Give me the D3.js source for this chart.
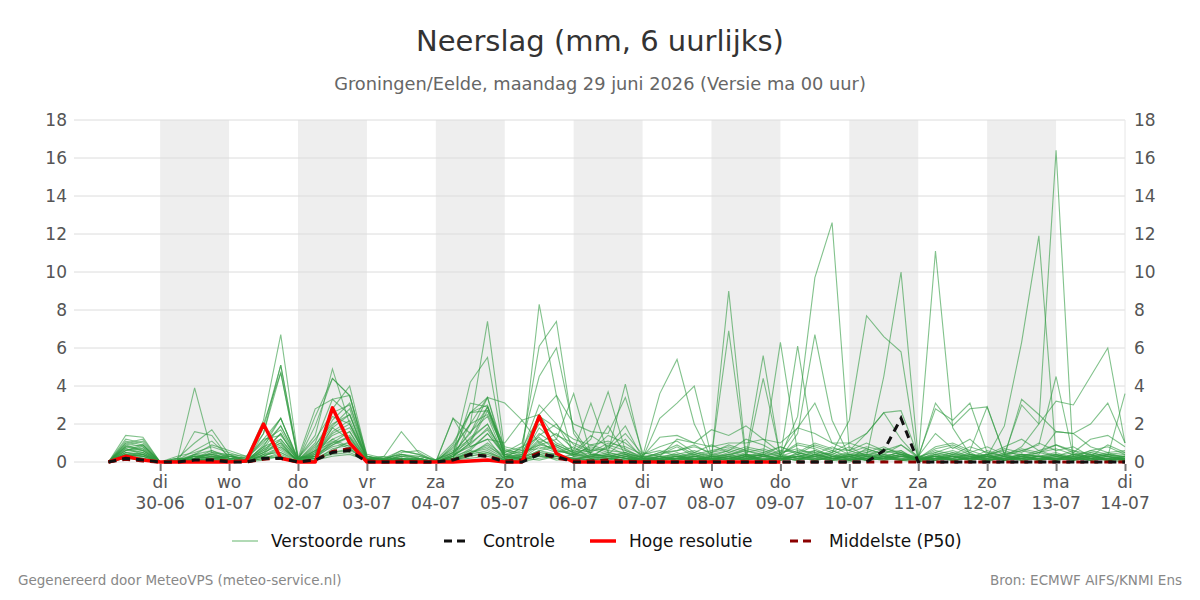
<!DOCTYPE html>
<html>
  <head>
    <meta charset="utf-8" />
    <title>Neerslag</title>
    <script src="https://d3js.org/d3.v7.min.js"></script>
    <style>
        body {margin: 0; background: #fff;}
        svg text {font-family: "DejaVu Sans", sans-serif;}
    </style>
  </head>
  <body>

    <svg id="chart" width="1200" height="600"></svg>

    <script>

        // run start and 6-hourly steps (first value at 29-06 06:00)
        var runStart = new Date(2026, 5, 29, 0);
        var stepHours = 6;

        var dayNames = ["di", "wo", "do", "vr", "za", "zo", "ma", "di", "wo", "do", "vr", "za", "zo", "ma", "di"];
        var dayDates = ["30-06", "01-07", "02-07", "03-07", "04-07", "05-07", "06-07", "07-07",
                        "08-07", "09-07", "10-07", "11-07", "12-07", "13-07", "14-07"];
        var shadedDays = ["30-06", "02-07", "04-07", "06-07", "08-07", "10-07", "12-07"];
        var yTicks = [0, 2, 4, 6, 8, 10, 12, 14, 16, 18];

        var controle = [
            0, 0.2, 0.1, 0, 0, 0.1, 0.1, 0, 0, 0.2, 0.2, 0,
            0.1, 0.5, 0.6, 0, 0, 0, 0, 0, 0.1, 0.4, 0.3, 0,
            0, 0.4, 0.3, 0, 0, 0, 0, 0, 0, 0, 0, 0,
            0, 0, 0, 0, 0, 0, 0, 0, 0, 0.6, 2.3, 0,
            0, 0, 0, 0, 0, 0, 0, 0, 0, 0, 0, 0
        ];

        var hogeResolutie = [
            0, 0.3, 0.1, 0, 0, 0, 0, 0, 0.05, 2.0, 0.2, 0,
            0, 2.85, 1.0, 0, 0, 0, 0, 0, 0, 0.05, 0.1, 0,
            0, 2.4, 0.45, 0, 0, 0, 0, 0, 0, 0, 0, 0,
            0, 0, 0, 0
        ];

        var p50 = [
            0, 0.15, 0.05, 0, 0, 0.05, 0.1, 0.05, 0, 0.15, 0.2, 0,
            0.1, 0.55, 0.7, 0.05, 0, 0.05, 0, 0, 0.1, 0.4, 0.3, 0.05,
            0.1, 0.5, 0.2, 0.05, 0.05, 0.1, 0.05, 0, 0, 0, 0, 0,
            0, 0, 0, 0, 0, 0, 0, 0, 0, 0, 0, 0,
            0, 0, 0, 0, 0, 0, 0, 0, 0, 0, 0, 0
        ];

        // verstoorde runs (ensemble members)
        var members = [
            [0, 1.4, 1.3, 0, 0.1, 0.3, 0.2, 0.1, 0, 0.4, 1.2, 0.1,
             0.5, 1.8, 1.2, 0.1, 0, 0.2, 0, 0, 0.3, 1.0, 2.7, 0.4,
             0.3, 1.2, 0.8, 0.3, 0.5, 0.2, 0.4, 0, 0.1, 0.3, 0.2, 0.1,
             0, 0.3, 0.2, 0.1, 0.5, 0.3, 0.1, 0, 0.2, 0.4, 0.1, 0,
             0.2, 0.5, 0.3, 0, 0.3, 0.8, 2.0, 16.4, 0.1, 0.3, 0.5, 0.2],
            [0, 1.1, 0.9, 0, 0, 0.2, 0.4, 0.1, 0.1, 0.8, 2.3, 0.1,
             1.0, 3.3, 2.5, 0.2, 0.1, 0.1, 0.1, 0, 0.5, 1.5, 2.9, 0.3,
             0.2, 0.8, 0.5, 0.6, 0.3, 0.4, 0.2, 0.1, 0, 0.2, 0.5, 0.2,
             0.1, 0.2, 0.4, 0.1, 0.3, 0.2, 0.5, 0.1, 0.3, 0.2, 0.6, 0,
             0.4, 0.3, 0.1, 0.3, 1.9, 6.3, 11.9, 0.3, 0.2, 0.4, 0.1, 0],
            [0, 0.9, 0.6, 0, 0.1, 0.4, 0.6, 0.2, 0, 1.5, 4.7, 0.2,
             0.3, 1.2, 0.8, 0.1, 0, 0.4, 0.2, 0, 0.2, 2.0, 3.4, 0.2,
             0.4, 2.5, 1.2, 0.4, 0.8, 0.5, 0.3, 0.1, 0.2, 0.4, 0.1, 0.3,
             0.2, 0.1, 0.3, 0.2, 0.4, 0.6, 0.3, 0.2, 0.4, 0.3, 0.5, 0.2,
             11.1, 1.8, 0.4, 0.2, 0.1, 0.3, 0.6, 0.3, 0.1, 0.2, 0.4, 0.1],
            [0, 0.7, 0.5, 0, 0, 0.1, 0.3, 0.2, 0.1, 0.5, 1.0, 0,
             0.4, 2.8, 4.0, 0.3, 0.1, 0, 0.1, 0, 0.1, 0.6, 1.5, 0.3,
             0.1, 0.5, 0.3, 0.2, 0.1, 0.3, 0.5, 0.2, 0.1, 0.2, 0.3, 0.1,
             0.4, 0.2, 0.1, 0.3, 2.4, 9.7, 12.6, 0.6, 0.3, 0.2, 0.4, 0.1,
             0.3, 0.2, 0.5, 0.1, 0.2, 0.4, 0.3, 0.2, 0.1, 0.5, 0.3, 0.2],
            [0, 0.6, 0.8, 0, 0, 0.2, 0.5, 0.1, 0, 0.3, 0.6, 0.1,
             0.2, 0.9, 1.4, 0.2, 0, 0.1, 0, 0, 0.4, 0.8, 1.2, 0.1,
             0.3, 1.4, 2.0, 0.5, 0.2, 0.1, 0.3, 0, 0.1, 0.2, 0.1, 0.3,
             0.2, 0.4, 0.1, 0.2, 0.3, 0.1, 0.2, 0.4, 0.3, 4.5, 10.0, 0.2,
             0.1, 0.3, 0.2, 0.4, 0.1, 0.2, 0.3, 0.1, 0.4, 0.2, 0.1, 0.3],
            [0, 0.5, 0.4, 0, 0.2, 0.1, 0.2, 0.3, 0.1, 0.6, 1.5, 0,
             0.1, 0.7, 0.9, 0.1, 0.2, 0, 0.1, 0, 0.1, 0.5, 0.9, 0.2,
             0.2, 0.6, 0.4, 0.1, 0.3, 0.2, 0.1, 0.2, 0.3, 0.1, 0.2, 0.1,
             0.3, 0.1, 0.2, 0.4, 0.2, 0.3, 0.5, 2.2, 7.7, 6.6, 5.8, 0,
             0.2, 0.1, 0.3, 0.2, 0.4, 0.1, 0.2, 0.3, 0.5, 0.2, 0.1, 0.2],
            [0, 0.4, 0.3, 0, 0, 0.1, 0.1, 0, 0, 0.2, 0.5, 0,
             0.3, 1.5, 2.0, 0.1, 0, 0.1, 0, 0, 0.2, 0.4, 0.6, 0.1,
             0.1, 0.3, 0.2, 0.4, 0.2, 0.3, 0.2, 0.1, 0.2, 0.3, 0.1, 0.2,
             9.0, 0.3, 0.1, 0.2, 0.1, 0.4, 0.2, 0.1, 0.2, 0.3, 0.1, 0.2,
             0.1, 0.4, 0.2, 0.1, 0.3, 0.2, 0.1, 0.4, 0.2, 0.1, 0.3, 0],
            [0, 0.3, 0.2, 0, 0, 0, 0.2, 0.1, 0, 0.4, 0.8, 0.1,
             0.2, 0.6, 1.1, 0, 0.1, 0, 0.1, 0, 0.1, 0.3, 0.5, 0.2,
             0, 0.2, 0.3, 0.1, 0.1, 0.2, 0.1, 0, 0.1, 0.2, 0.1, 0.3,
             6.9, 0.2, 0.4, 6.3, 0.5, 0.2, 0.1, 0.3, 0.1, 0.2, 0.3, 0.1,
             0.2, 0.3, 0.1, 0.2, 0.1, 0.3, 0.2, 0.1, 0.2, 0.3, 0.1, 0.1],
            [0, 0.2, 0.1, 0, 0.1, 0.3, 0.2, 0, 0, 0.2, 0.4, 0,
             0.1, 0.5, 0.6, 0.2, 0, 0.1, 0, 0, 0.3, 0.6, 0.4, 0.1,
             0.2, 0.4, 0.1, 0.2, 0.1, 0.1, 0.3, 0, 0.2, 0.1, 0.3, 0.2,
             0.1, 0.3, 5.6, 0.2, 0.1, 0.3, 0.2, 0.1, 0.2, 0.1, 0.3, 0.2,
             0.1, 0.2, 0.3, 0.1, 0.2, 0.4, 0.1, 0.2, 0.1, 0.2, 0.3, 0.1],
            [0, 0.3, 0.4, 0, 0, 0.1, 0, 0.1, 0, 0.1, 0.3, 0,
             0.2, 0.4, 0.5, 0.1, 0, 0, 0.1, 0, 0.2, 0.5, 0.8, 0.3,
             0.1, 0.3, 0.2, 0.1, 0.4, 0.3, 0.2, 0.3, 3.6, 5.4, 2.0, 0.2,
             0.3, 0.1, 4.4, 0.3, 0.2, 0.1, 0.3, 0.2, 0.1, 0.3, 0.2, 0.1,
             0.3, 0.1, 0.2, 0.3, 0.1, 0.2, 0.3, 0.1, 0.2, 0.1, 0.2, 0.3],
            [0, 0.2, 0.3, 0, 0, 0, 0.1, 0, 0.1, 0.3, 0.2, 0,
             0.1, 0.3, 0.4, 0.1, 0.1, 0, 0, 0, 0.1, 0.2, 0.3, 0.1,
             0.2, 0.1, 0.3, 0.2, 0.1, 0.2, 0.1, 0.2, 2.3, 3.1, 4.0, 0.3,
             0.2, 0.4, 0.1, 0.3, 6.1, 0.4, 0.2, 0.1, 0.3, 0.2, 0.1, 0.3,
             0.2, 0.1, 0.2, 0.4, 0.1, 0.3, 0.2, 0.1, 0.3, 0.2, 0.1, 0.2],
            [0, 1.0, 1.2, 0, 0, 0.2, 0.3, 0.1, 0, 0.7, 1.9, 0.1,
             0.6, 2.2, 3.1, 0.3, 0, 0.1, 0.2, 0, 0.1, 0.4, 1.0, 0.3,
             0.2, 8.3, 3.5, 0.3, 0.2, 0.4, 0.2, 0, 0.1, 0.2, 0.1, 0.3,
             0.2, 0.1, 0.3, 0.2, 1.5, 6.7, 2.2, 0.3, 0.1, 0.2, 0.4, 0.1,
             0.2, 0.3, 0.1, 0.2, 0.3, 0.1, 0.2, 0.4, 0.1, 0.2, 0.3, 0.1],
            [0, 0.8, 0.7, 0, 0, 0.3, 0.4, 0.2, 0.1, 1.8, 5.1, 0.2,
             0.3, 1.0, 1.6, 0.2, 0.1, 0.3, 0.1, 0, 0.3, 1.3, 2.0, 0.2,
             0.8, 6.1, 7.4, 1.5, 0.3, 0.2, 0.4, 0.1, 0.2, 0.3, 0.1, 0.2,
             0.4, 0.2, 0.1, 0.3, 0.2, 0.1, 0.3, 0.2, 0.4, 0.1, 0.2, 0.3,
             0.1, 0.2, 0.4, 0.1, 0.2, 0.3, 0.1, 0.2, 0.3, 0.1, 0.2, 0.1],
            [0, 0.6, 0.9, 0, 0.1, 0.2, 0.1, 0.3, 0.1, 1.2, 2.3, 0.1,
             1.9, 4.4, 3.5, 0.4, 0.2, 0.6, 0.4, 0.1, 0.5, 2.6, 3.4, 0.5,
             1.0, 4.5, 6.0, 1.7, 0.4, 0.3, 0.2, 0, 0.3, 0.1, 0.2, 0.1,
             0.3, 0.2, 0.4, 0.1, 0.2, 0.3, 0.1, 0.4, 0.2, 0.1, 0.3, 0.2,
             0.3, 0.1, 0.2, 0.3, 0.1, 0.2, 0.1, 0.3, 0.2, 0.4, 0.1, 0.2],
            [0, 0.5, 0.6, 0, 0, 0.1, 0.2, 0.1, 0, 0.5, 0.9, 0,
             0.3, 1.8, 2.5, 0.2, 0.1, 0.2, 0.1, 0, 0.8, 2.0, 7.4, 0.6,
             0.3, 0.9, 1.2, 3.6, 0.4, 0.3, 0.5, 0.2, 0.1, 0.3, 0.2, 0.1,
             0.2, 0.3, 0.1, 0.2, 0.4, 0.1, 0.2, 0.3, 0.1, 0.2, 0.4, 0.1,
             0.3, 0.2, 0.1, 0.4, 0.2, 0.1, 0.3, 0.2, 0.1, 0.3, 0.2, 0.1],
            [0, 0.4, 0.3, 0, 0, 0.4, 0.3, 0.1, 0, 0.3, 0.7, 0.1,
             0.4, 0.9, 1.3, 0.1, 0, 0.1, 0.2, 0, 0.4, 4.2, 5.5, 0.3,
             0.2, 0.6, 0.8, 0.4, 1.2, 3.7, 0.6, 0.2, 0.1, 0.2, 0.3, 0.1,
             0.2, 0.1, 0.3, 0.2, 0.1, 0.4, 0.2, 0.1, 0.3, 0.2, 0.1, 0.2,
             0.4, 0.1, 0.2, 0.3, 0.1, 0.2, 0.3, 0.1, 0.4, 0.2, 0.1, 0.2],
            [0, 1.2, 1.0, 0, 0.1, 3.9, 0.5, 0.3, 0.2, 2.2, 6.7, 0.3,
             0.2, 1.1, 0.7, 0.1, 0.2, 0.4, 0.2, 0, 0.2, 3.1, 2.9, 0.4,
             0.2, 1.8, 1.0, 0.6, 3.1, 0.5, 4.1, 0.3, 0.2, 0.1, 0.3, 0.2,
             0.1, 0.3, 0.2, 0.1, 0.3, 0.2, 0.4, 0.1, 0.2, 0.3, 0.1, 0.2,
             0.1, 0.3, 0.2, 0.1, 0.2, 0.3, 0.1, 0.2, 0.3, 0.1, 0.2, 0.3],
            [0, 0.9, 1.1, 0, 0.2, 1.0, 1.7, 0.4, 0.3, 1.5, 5.1, 0.2,
             1.4, 4.9, 2.0, 0.3, 0.1, 0.5, 0.6, 0.1, 1.0, 2.6, 2.7, 0.8,
             0.6, 3.0, 2.0, 0.9, 0.5, 1.9, 0.4, 0.3, 1.3, 1.4, 1.0, 1.7,
             1.4, 1.9, 1.2, 0.5, 1.8, 1.5, 1.0, 0.6, 1.5, 2.6, 2.7, 0.3,
             2.8, 2.2, 3.1, 0.5, 0.3, 3.3, 2.5, 1.6, 1.5, 2.0, 3.1, 1.0],
            [0, 0.8, 0.9, 0, 0, 1.6, 1.4, 0.2, 0.1, 2.0, 4.7, 0.1,
             2.4, 4.4, 3.5, 0.2, 0.3, 1.6, 0.5, 0, 2.3, 1.5, 3.4, 3.1,
             2.2, 2.5, 3.5, 2.0, 1.6, 1.5, 3.4, 0.5, 0.3, 1.2, 1.0, 0.8,
             1.0, 1.0, 1.2, 1.0, 1.8, 3.1, 1.0, 1.0, 1.5, 2.6, 1.2, 0.2,
             3.1, 1.9, 2.8, 2.9, 0.4, 3.0, 2.0, 3.2, 3.0, 4.5, 6.0, 1.0],
            [0, 0.7, 0.4, 0, 0.3, 0.5, 0.8, 0.5, 0.2, 1.0, 2.3, 0.2,
             2.8, 3.3, 3.5, 0.2, 0.1, 0.3, 0.3, 0.1, 0.5, 1.1, 2.9, 0.7,
             0.4, 1.5, 0.9, 0.5, 1.4, 0.8, 1.9, 0.2, 0.5, 0.9, 0.4, 0.6,
             0.8, 0.5, 0.7, 0.4, 0.9, 0.7, 0.3, 0.5, 0.8, 0.6, 0.9, 0.2,
             0.7, 0.9, 0.5, 0.8, 0.4, 0.6, 0.9, 4.5, 0.3, 0.6, 0.8, 0.4],
            [0, 0.5, 0.3, 0, 0, 0.2, 0.6, 0.3, 0.1, 0.8, 1.2, 0.1,
             0.9, 2.0, 2.5, 0.1, 0.2, 0.2, 0.1, 0, 0.3, 0.9, 1.8, 0.5,
             0.8, 1.3, 0.6, 0.4, 0.6, 1.4, 1.0, 0.3, 0.4, 0.6, 0.9, 0.4,
             0.6, 0.3, 0.5, 0.8, 0.4, 0.9, 0.6, 0.3, 0.5, 0.8, 0.4, 0.3,
             0.5, 0.3, 0.6, 2.9, 0.4, 0.7, 0.5, 0.9, 0.6, 0.4, 0.3, 3.6],
            [0, 0.3, 0.5, 0, 0.1, 0.3, 0.4, 0.2, 0.1, 0.6, 1.0, 0,
             0.5, 1.4, 1.8, 0.3, 0.1, 0.1, 0.2, 0, 0.2, 0.7, 1.5, 0.4,
             0.5, 0.9, 0.7, 0.3, 0.9, 0.6, 0.5, 0.1, 0.3, 0.4, 0.6, 0.3,
             0.4, 0.6, 0.3, 0.5, 0.7, 0.4, 0.8, 0.4, 0.6, 0.3, 0.5, 0.1,
             0.4, 0.6, 0.3, 0.4, 0.6, 0.3, 0.5, 0.7, 0.4, 0.5, 0.3, 0.4],
            [0, 0.2, 0.2, 0, 0, 0.1, 0.2, 0.1, 0, 0.4, 0.5, 0.1,
             0.3, 0.8, 1.0, 0.1, 0, 0, 0.1, 0, 0.1, 0.5, 0.7, 0.2,
             0.3, 0.5, 0.4, 0.2, 0.3, 0.5, 0.3, 0.2, 0.2, 0.3, 0.4, 0.2,
             0.5, 0.3, 0.4, 0.2, 0.3, 0.5, 0.2, 0.3, 0.4, 0.2, 0.3, 0.1,
             0.3, 0.2, 0.4, 0.3, 0.2, 0.4, 0.3, 0.2, 0.4, 0.3, 0.2, 0.3],
            [0, 0.6, 0.7, 0, 0, 0.2, 0.3, 0.2, 0.1, 0.5, 1.5, 0.1,
             0.8, 2.4, 2.0, 0.2, 0.1, 0.6, 0.4, 0, 2.3, 0.8, 1.2, 1.0,
             2.2, 1.0, 1.5, 0.7, 0.5, 1.0, 0.8, 0.4, 0.6, 0.3, 0.5, 0.9,
             0.5, 0.8, 0.6, 0.3, 0.6, 0.5, 0.4, 0.8, 0.3, 0.7, 0.5, 0.2,
             0.6, 0.4, 0.8, 0.5, 0.3, 0.6, 0.4, 1.6, 1.5, 0.8, 0.5, 0.6],
            [0, 0.4, 0.2, 0, 0, 0.3, 0.2, 0.3, 0.2, 0.3, 0.8, 0.1,
             0.6, 1.0, 1.3, 0.1, 0.3, 0.1, 0, 0.1, 0.6, 1.2, 2.0, 0.3,
             0.6, 0.7, 0.9, 0.5, 0.7, 0.4, 1.2, 0.2, 0.4, 0.8, 0.3, 0.5,
             0.7, 0.4, 0.3, 0.6, 0.5, 0.3, 0.6, 0.2, 0.7, 0.4, 0.3, 0.2,
             0.3, 0.5, 0.2, 0.6, 0.3, 0.2, 0.5, 0.3, 0.6, 0.2, 0.4, 0.5],
            [0, 0.3, 0.4, 0, 0.2, 0.1, 0.5, 0.4, 0, 0.9, 1.9, 0.2,
             0.4, 1.6, 2.2, 0.2, 0, 0.3, 0.2, 0, 0.4, 1.6, 2.4, 0.2,
             0.3, 1.1, 0.5, 0.8, 0.2, 0.9, 0.6, 0.3, 0.2, 0.5, 0.2, 0.4,
             0.3, 0.7, 0.5, 0.3, 0.2, 0.6, 0.3, 0.4, 0.2, 0.5, 0.6, 0.1,
             0.5, 0.8, 0.4, 0.2, 0.5, 0.4, 0.3, 0.4, 0.2, 0.6, 0.4, 0.2],
            [0, 0.2, 0.1, 0, 0, 0.1, 0.1, 0.1, 0, 0.2, 0.3, 0,
             0.2, 0.5, 0.7, 0.1, 0.1, 0.1, 0, 0, 0.1, 0.3, 0.5, 0.1,
             0.1, 0.4, 0.3, 0.2, 0.2, 0.3, 0.2, 0.1, 0.1, 0.2, 0.1, 0.2,
             0.1, 0.2, 0.1, 0.2, 0.1, 0.2, 0.1, 0.2, 0.1, 0.2, 0.1, 0.1,
             0.2, 0.1, 0.2, 0.1, 0.2, 0.1, 0.2, 0.1, 0.2, 0.1, 0.2, 0.1],
            [0, 0.8, 0.6, 0, 0, 0.4, 0.9, 0.6, 0.3, 1.2, 1.4, 0.2,
             1.2, 2.6, 3.0, 0.3, 0.2, 0.4, 0.3, 0.1, 0.7, 2.0, 2.5, 0.6,
             0.5, 2.0, 1.4, 1.0, 0.6, 0.7, 1.5, 0.4, 0.8, 1.1, 0.5, 0.3,
             0.6, 1.2, 0.9, 0.4, 1.0, 0.8, 0.5, 1.0, 0.7, 0.4, 0.9, 0.3,
             1.5, 0.7, 1.2, 0.4, 0.8, 1.2, 0.6, 0.9, 0.5, 1.2, 1.4, 0.8],
            [0, 1.0, 0.8, 0, 0.1, 0.6, 1.1, 0.3, 0.2, 1.1, 1.7, 0.1,
             0.7, 1.9, 2.8, 0.2, 0.1, 0.2, 0.1, 0, 0.9, 2.6, 3.0, 0.4,
             0.7, 2.4, 1.8, 1.2, 0.9, 1.1, 0.7, 0.2, 0.5, 0.6, 0.8, 0.5,
             0.9, 0.6, 0.4, 0.8, 0.5, 1.0, 0.7, 0.6, 1.0, 0.6, 0.4, 0.2,
             0.8, 1.0, 0.6, 0.3, 0.7, 0.5, 1.0, 0.6, 0.8, 0.3, 0.9, 0.5],
            [0, 0.4, 0.5, 0, 0, 0.3, 0.2, 0.4, 0.1, 0.7, 1.1, 0,
             0.6, 1.2, 1.6, 0.1, 0.1, 0.2, 0.1, 0, 0.3, 1.0, 1.7, 0.3,
             0.4, 1.0, 0.6, 0.4, 0.3, 0.8, 0.4, 0.1, 0.3, 0.2, 0.4, 0.1,
             0.2, 0.4, 0.3, 0.1, 0.3, 0.4, 0.2, 0.3, 0.5, 0.3, 0.2, 0.1,
             0.2, 0.4, 0.3, 0.2, 0.4, 0.2, 0.3, 0.5, 0.2, 0.3, 0.4, 0.3]
        ];

        var svg = d3.select("#chart");

        var margin = {top: 120, right: 75, bottom: 138, left: 74};
        var width = 1200 - margin.left - margin.right;
        var height = 600 - margin.top - margin.bottom;

        function stepTime(i) {
            return d3.timeHour.offset(runStart, (i + 1) * stepHours);
        }

        var x = d3.scaleTime()
                  .domain([new Date(2026, 5, 28, 18), new Date(2026, 6, 14, 0)])
                  .range([margin.left, margin.left + width]);

        var y = d3.scaleLinear()
                  .domain([0, 18])
                  .range([margin.top + height, margin.top]);

        var parseDay = d3.timeParse("%d-%m-%Y");
        var tickDates = dayDates.map(function(d){ return parseDay(d + "-2026"); });

        // titles
        svg.append("text")
           .attr("x", 600).attr("y", 51)
           .attr("text-anchor", "middle")
           .style("font-size", "29px").style("fill", "#333")
           .text("Neerslag (mm, 6 uurlijks)");

        svg.append("text")
           .attr("x", 600).attr("y", 90)
           .attr("text-anchor", "middle")
           .style("font-size", "17.8px").style("fill", "#666")
           .text("Groningen/Eelde, maandag 29 juni 2026 (Versie ma 00 uur)");

        // shaded days
        svg.append("g").selectAll("rect")
           .data(shadedDays)
           .enter().append("rect")
           .attr("x", function(d){ return x(parseDay(d + "-2026")); })
           .attr("width", function(d){
               var s = parseDay(d + "-2026");
               return x(d3.timeDay.offset(s, 1)) - x(s);
           })
           .attr("y", margin.top)
           .attr("height", height)
           .attr("fill", "#eeeeee");

        // grid lines
        svg.append("g").selectAll("line")
           .data(yTicks)
           .enter().append("line")
           .attr("x1", margin.left).attr("x2", margin.left + width)
           .attr("y1", function(d){ return y(d); })
           .attr("y2", function(d){ return y(d); })
           .attr("stroke", "#dcdcdc")
           .attr("stroke-width", 1);

        // right edge line
        svg.append("line")
           .attr("x1", margin.left + width).attr("x2", margin.left + width)
           .attr("y1", margin.top).attr("y2", margin.top + height)
           .attr("stroke", "#e6e6e6");

        // y axes
        var yLeft = svg.append("g")
           .attr("transform", "translate(" + (margin.left - 4) + ",0)")
           .call(d3.axisLeft(y).tickValues(yTicks).tickSize(0));
        var yRight = svg.append("g")
           .attr("transform", "translate(" + (margin.left + width + 6) + ",0)")
           .call(d3.axisRight(y).tickValues(yTicks).tickSize(0));
        [yLeft, yRight].forEach(function(g){
            g.select(".domain").remove();
            g.selectAll("text")
             .style("font-size", "17px")
             .style("fill", "#555")
             .style("font-family", "DejaVu Sans, sans-serif");
        });

        // lines
        var line = d3.line()
                     .x(function(d, i){ return x(stepTime(i)); })
                     .y(function(d){ return y(d); });

        var plot = svg.append("g");

        plot.selectAll(".member")
            .data(members)
            .enter().append("path")
            .attr("class", "member")
            .attr("d", line)
            .attr("fill", "none")
            .attr("stroke", "#2f9a40")
            .attr("stroke-opacity", 0.6)
            .attr("stroke-width", 1.1);

        plot.append("path")
            .attr("d", line(p50))
            .attr("fill", "none")
            .attr("stroke", "#8b0000")
            .attr("stroke-width", 3)
            .attr("stroke-dasharray", "8,6");

        plot.append("path")
            .attr("d", line(hogeResolutie))
            .attr("fill", "none")
            .attr("stroke", "#ff0000")
            .attr("stroke-width", 3.5)
            .attr("stroke-linejoin", "round");

        plot.append("path")
            .attr("d", line(controle))
            .attr("fill", "none")
            .attr("stroke", "#111")
            .attr("stroke-width", 3)
            .attr("stroke-dasharray", "8,6");

        // x axis: tick marks from d3, labels as two separate texts per tick
        var xAxis = svg.append("g")
           .attr("transform", "translate(0," + (margin.top + height) + ")")
           .call(d3.axisBottom(x).tickValues(tickDates).tickSize(9).tickSizeOuter(0).tickFormat(""));
        xAxis.select(".domain").remove();
        xAxis.selectAll(".tick text").remove();
        xAxis.selectAll(".tick line")
             .attr("y1", 2)
             .attr("stroke", "#777").attr("stroke-width", 2);

        var xLabels = svg.append("g")
           .selectAll("g")
           .data(tickDates)
           .enter().append("g")
           .attr("transform", function(d){ return "translate(" + x(d) + "," + (margin.top + height) + ")"; });

        xLabels.append("text")
           .attr("y", 26)
           .attr("text-anchor", "middle")
           .style("font-size", "17px").style("fill", "#555")
           .text(function(d, i){ return dayNames[i]; });

        xLabels.append("text")
           .attr("y", 47)
           .attr("text-anchor", "middle")
           .style("font-size", "17px").style("fill", "#555")
           .text(function(d, i){ return dayDates[i]; });

        // legend
        var legendItems = [
            {label: "Verstoorde runs", x: 232, color: "#7cc283", width: 1.2, dash: null},
            {label: "Controle", x: 444, color: "#111", width: 3, dash: "8,5"},
            {label: "Hoge resolutie", x: 590, color: "#ff0000", width: 3.5, dash: null},
            {label: "Middelste (P50)", x: 790, color: "#8b0000", width: 3, dash: "8,5"}
        ];

        var legend = svg.append("g").selectAll("g")
            .data(legendItems)
            .enter().append("g")
            .attr("transform", function(d){ return "translate(" + d.x + ",541)"; });

        legend.append("line")
              .attr("x1", 0).attr("x2", 26)
              .attr("stroke", function(d){ return d.color; })
              .attr("stroke-width", function(d){ return d.width; })
              .attr("stroke-dasharray", function(d){ return d.dash; });

        legend.append("text")
              .attr("x", 39).attr("y", 6)
              .style("font-size", "17px").style("fill", "#111")
              .text(function(d){ return d.label; });

        // footer
        svg.append("text")
           .attr("x", 18).attr("y", 585)
           .style("font-size", "13.5px").style("fill", "#888")
           .text("Gegenereerd door MeteoVPS (meteo-service.nl)");

        svg.append("text")
           .attr("x", 1182).attr("y", 585)
           .attr("text-anchor", "end")
           .style("font-size", "13.5px").style("fill", "#888")
           .text("Bron: ECMWF AIFS/KNMI Ens");

    </script>

  </body>
</html>
